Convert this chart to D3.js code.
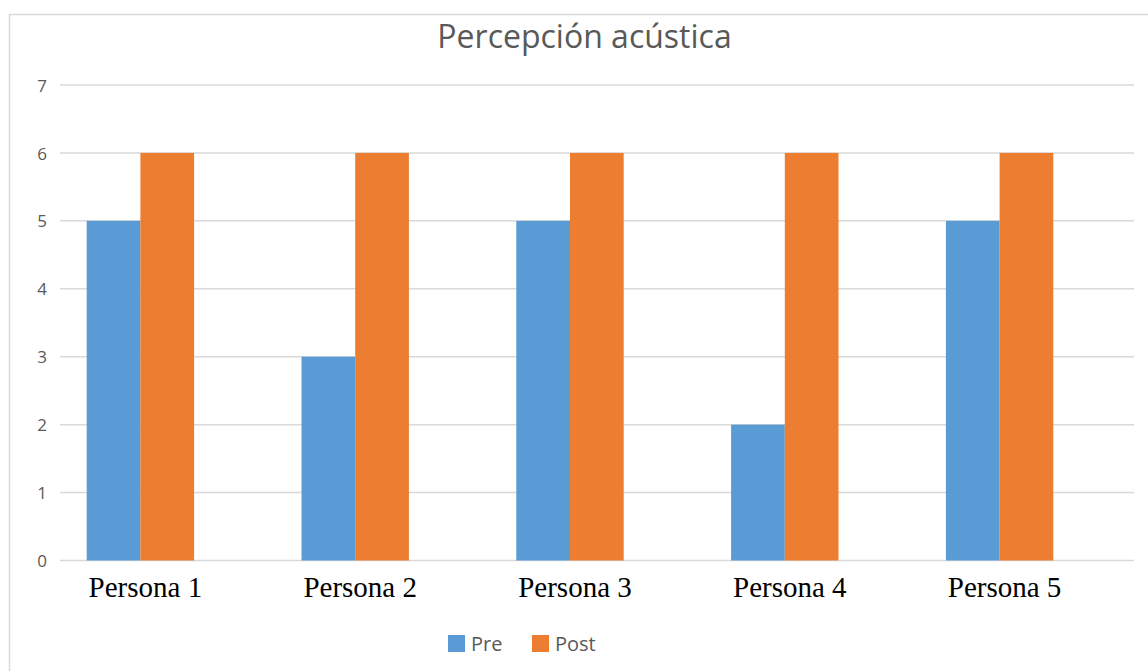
<!DOCTYPE html>
<html>
<head>
<meta charset="utf-8">
<script src="https://cdn.jsdelivr.net/npm/d3@7"></script>
<style>
  html, body { margin: 0; padding: 0; background: #ffffff; }
  svg { display: block; }
</style>
</head>
<body>
<svg id="chart" width="1148" height="671"></svg>
<script>
// Chart data
const categories = ["Persona 1", "Persona 2", "Persona 3", "Persona 4", "Persona 5"];
const seriesNames = ["Pre", "Post"];
const preValues = [5, 3, 5, 2, 5];
const postValues = [6, 6, 6, 6, 6];
const yTicks = [0, 1, 2, 3, 4, 5, 6, 7];
const titleText = "Percepción acústica";

const colors = { Pre: "#5b9bd5", Post: "#ed7d31" };
const valuesBySeries = { Pre: preValues, Post: postValues };

const svg = d3.select("#chart");
const W = 1148, H = 671;

// Outer chart frame
svg.append("rect")
  .attr("x", 9.5).attr("y", 14.5)
  .attr("width", W + 20).attr("height", H + 20)
  .attr("fill", "#ffffff")
  .attr("stroke", "#d9d9d9").attr("stroke-width", 1.5);

// Scales
const y = d3.scaleLinear().domain([0, 7]).range([560.5, 85]);
const x0 = d3.scaleBand().domain(categories).range([33, 1107])
  .paddingInner(0.5).paddingOuter(0.25);
const x1 = d3.scaleBand().domain(seriesNames).range([0, x0.bandwidth()]);

const gridLeft = 60, gridRight = 1134;

// Horizontal gridlines
svg.append("g").selectAll("line")
  .data(yTicks).join("line")
  .attr("x1", gridLeft).attr("x2", gridRight)
  .attr("y1", d => y(d)).attr("y2", d => y(d))
  .attr("stroke", "#d9d9d9").attr("stroke-width", 1.5);

// Y axis tick labels
const yAxis = d3.axisLeft(y).tickValues(yTicks).tickFormat(d3.format("d"))
  .tickSize(0).tickPadding(0);
const gy = svg.append("g").attr("transform", "translate(47,0)").call(yAxis);
gy.select(".domain").remove();
gy.selectAll("text")
  .attr("font-family", "'Open Sans', sans-serif")
  .attr("font-size", 17)
  .attr("fill", "#595959")
  .attr("dy", "0.36em");

// Bars
const groups = svg.append("g").selectAll("g")
  .data(categories).join("g")
  .attr("transform", d => `translate(${x0(d)},0)`);

groups.selectAll("rect")
  .data((d, i) => seriesNames.map(s => ({ s, v: valuesBySeries[s][i] })))
  .join("rect")
  .attr("x", d => x1(d.s))
  .attr("width", x1.bandwidth())
  .attr("y", d => y(d.v))
  .attr("height", d => y(0) - y(d.v))
  .attr("fill", d => colors[d.s]);

// Category labels
svg.append("g").selectAll("text")
  .data(categories).join("text")
  .attr("x", d => x0(d) + x0.bandwidth() / 2 + 5)
  .attr("y", 597)
  .attr("text-anchor", "middle")
  .attr("font-family", "'Liberation Serif', 'Times New Roman', serif")
  .attr("font-size", 29)
  .attr("fill", "#000000")
  .text(d => d);

// Title
svg.append("text")
  .attr("x", 584.5).attr("y", 48)
  .attr("text-anchor", "middle")
  .attr("font-family", "'Open Sans', sans-serif")
  .attr("font-size", 32)
  .attr("fill", "#595959")
  .text(titleText);

// Legend
const legendItems = [
  { name: "Pre", x: 448 },
  { name: "Post", x: 532 }
];
const lg = svg.append("g").selectAll("g")
  .data(legendItems).join("g")
  .attr("transform", d => `translate(${d.x},635)`);
lg.append("rect")
  .attr("width", 17).attr("height", 17)
  .attr("fill", d => colors[d.name]);
lg.append("text")
  .attr("x", 23).attr("y", 16)
  .attr("font-family", "'Open Sans', sans-serif")
  .attr("font-size", 20)
  .attr("fill", "#595959")
  .text(d => d.name);
</script>
</body>
</html>
